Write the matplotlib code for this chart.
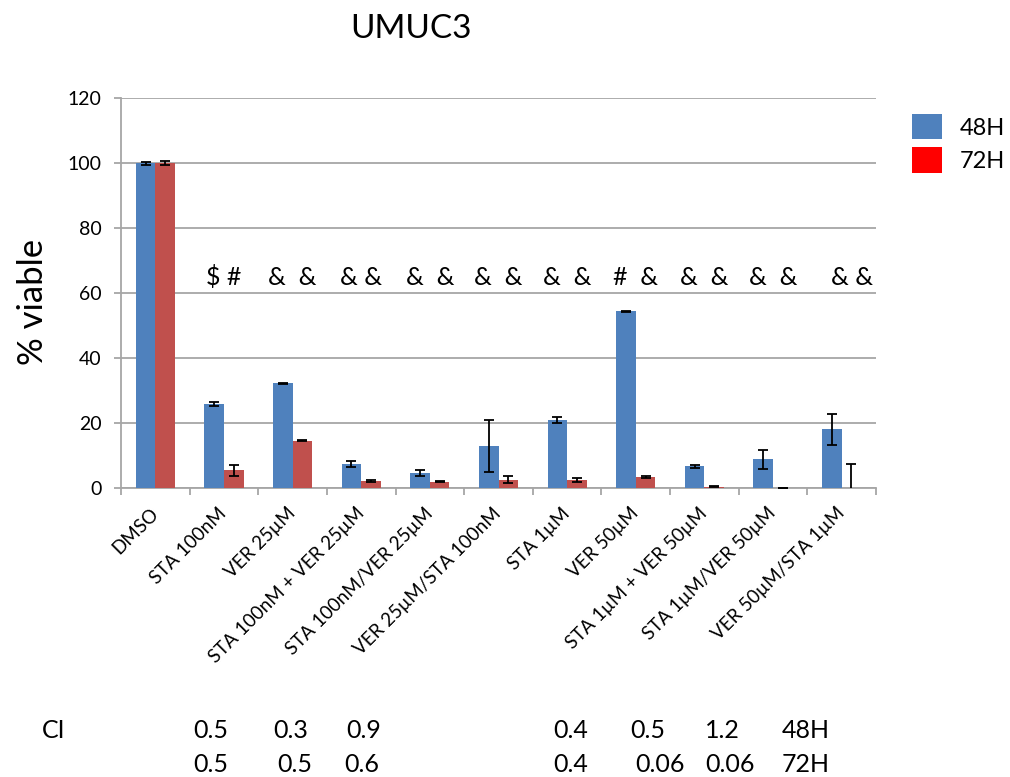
import matplotlib
matplotlib.use("Agg")
import matplotlib.pyplot as plt
from matplotlib.patches import Patch
import numpy as np

plt.rcParams['font.family'] = ['Lato', 'DejaVu Sans']

categories = ["DMSO", "STA 100nM", "VER 25µM", "STA 100nM + VER 25µM",
              "STA 100nM/VER 25µM", "VER 25µM/STA 100nM", "STA 1µM", "VER 50µM",
              "STA 1µM + VER 50µM", "STA 1µM/VER 50µM", "VER 50µM/STA 1µM"]
viable_48h = [100, 26.0, 32.3, 7.4, 4.7, 13.1, 21.0, 54.5, 6.8, 8.9, 18.2]
err_48h = [0.5, 0.65, 0.2, 0.95, 0.85, 8.0, 0.8, 0.2, 0.5, 3.0, 4.75]
viable_72h = [100, 5.5, 14.6, 2.2, 2.0, 2.7, 2.6, 3.5, 0.5, 0.1, 0.2]
err_72h = [0.6, 1.6, 0.2, 0.3, 0.2, 1.0, 0.6, 0.2, 0.1, 0.0, 7.4]
annotations = ["$ #", "&  &", "& &", "&  &", "&  &", "&  &", "#  &", "&  &", "&  &", "& &"]
series_labels = ["48H", "72H"]
ci_label = "CI"
ci_48h = ["0.5", "0.3", "0.9", "0.4", "0.5", "1.2", "48H"]
ci_72h = ["0.5", "0.5", "0.6", "0.4", "0.06", "0.06", "72H"]

blue = "#4F81BD"
red = "#C0504D"
grid_c = "#A6A6A6"

W, H = 1010, 777
fig = plt.figure(figsize=(W / 100, H / 100), dpi=100)
ax = fig.add_axes([121 / W, 1 - 488.3 / H, (876 - 121) / W, (488.3 - 98.3) / H])

x = np.arange(len(categories))
bw = 0.285
ekw = dict(ecolor="black", elinewidth=1.3, capsize=3.5, capthick=1.3)
ax.bar(x - bw / 2, viable_48h, bw, color=blue, yerr=err_48h, error_kw=ekw, zorder=3)
ax.bar(x + bw / 2, viable_72h, bw, color=red, yerr=err_72h, error_kw=ekw, zorder=3)

for i, t in enumerate(annotations):
    xi = i + 1 + (0.15 if i == len(annotations) - 1 else 0)
    ax.text(xi, 65, t, ha="center", va="center", fontsize=18, zorder=4)

ax.set_xlim(-0.5, len(categories) - 0.5)
ax.set_ylim(0, 120)
ax.set_yticks(np.arange(0, 121, 20))
ax.yaxis.grid(True, color=grid_c, lw=1.3, zorder=0)
ax.set_axisbelow(True)
for s in ["top", "right"]:
    ax.spines[s].set_visible(False)
for s in ["left", "bottom"]:
    ax.spines[s].set_color(grid_c)
    ax.spines[s].set_linewidth(1.3)

ax.set_xticks(x)
ax.set_xticklabels(categories, rotation=45, ha="right", va="center",
                   rotation_mode="anchor", fontsize=13.5)
ax.set_xticks(np.arange(-0.5, len(categories), 1.0), minor=True)
ax.tick_params(axis="x", which="major", length=0, pad=16)
ax.tick_params(axis="x", which="minor", length=5, color=grid_c, width=1.3)
ax.tick_params(axis="y", length=5, color=grid_c, width=1.3, labelsize=14, pad=9)

ax.set_ylabel("% viable", fontsize=25)
ax.yaxis.set_label_coords(-0.095, 0.478)

fig.text(411 / W, 1 - 29 / H, "UMUC3", ha="center", va="center", fontsize=24)

handles = [Patch(facecolor=blue), Patch(facecolor="red")]
fig.legend(handles, series_labels, loc="upper left",
           bbox_to_anchor=(912 / W, 1 - 114 / H), frameon=False,
           borderaxespad=0, borderpad=0, handlelength=1.28, handleheight=1.28,
           handletextpad=0.75, labelspacing=0.34, fontsize=17)

fig.text(54 / W, 1 - 730 / H, ci_label, ha="center", va="center", fontsize=18)
ci_x48 = [211, 291, 364, 571, 648, 722, 806]
ci_x72 = [211, 295, 362, 571, 660, 730, 806]
for xv, t in zip(ci_x48, ci_48h):
    fig.text(xv / W, 1 - 730 / H, t, ha="center", va="center", fontsize=18)
for xv, t in zip(ci_x72, ci_72h):
    fig.text(xv / W, 1 - 764 / H, t, ha="center", va="center", fontsize=18)

fig.savefig("out.png", dpi=100)
